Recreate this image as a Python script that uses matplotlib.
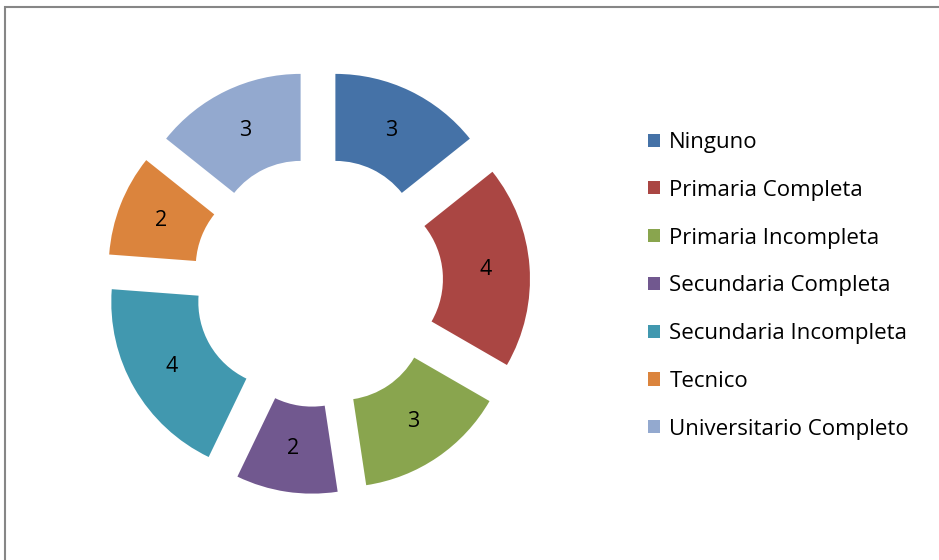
import matplotlib.pyplot as plt
from matplotlib.patches import Rectangle

categories = ['Ninguno', 'Primaria Completa', 'Primaria Incompleta',
              'Secundaria Completa', 'Secundaria Incompleta', 'Tecnico',
              'Universitario Completo']
counts = [3, 4, 3, 2, 4, 2, 3]
colors = ['#4572A7', '#AA4643', '#89A54E', '#71588F', '#4198AF', '#DB843D', '#93A9CF']

plt.rcParams['font.family'] = ['Open Sans', 'DejaVu Sans']

fig = plt.figure(figsize=(9.39, 5.6), dpi=100)

# grey chart-area frame
fig.patches.append(Rectangle((5 / 939, -0.1), 1.2, 1 - 7 / 560 + 0.1,
                             transform=fig.transFigure, fill=False,
                             edgecolor='#868686', linewidth=1.5))

ax = fig.add_axes([94.4 / 939, 54.4 / 560, 447.2 / 939, 447.2 / 560])
ring = 0.506
wedges, texts, autotexts = ax.pie(
    counts, colors=colors, startangle=90, counterclock=False,
    explode=[0.233] * len(counts),
    wedgeprops=dict(width=ring, linewidth=0),
    autopct=lambda p: '%d' % round(p * sum(counts) / 100),
    pctdistance=1 - ring / 2,
    textprops=dict(fontsize=15.5, color='black'))
ax.set_xlim(-1.3, 1.3)
ax.set_ylim(-1.3, 1.3)
ax.set_aspect('equal')
ax.axis('off')

fig.legend(wedges, categories, loc='upper left',
           bbox_to_anchor=(648 / 939, 1 - 132 / 560),
           frameon=False, fontsize=16, handlelength=0.53, handleheight=0.53,
           handletextpad=0.43, labelspacing=1.205, borderpad=0, borderaxespad=0)

fig.savefig('out.png', dpi=100)
